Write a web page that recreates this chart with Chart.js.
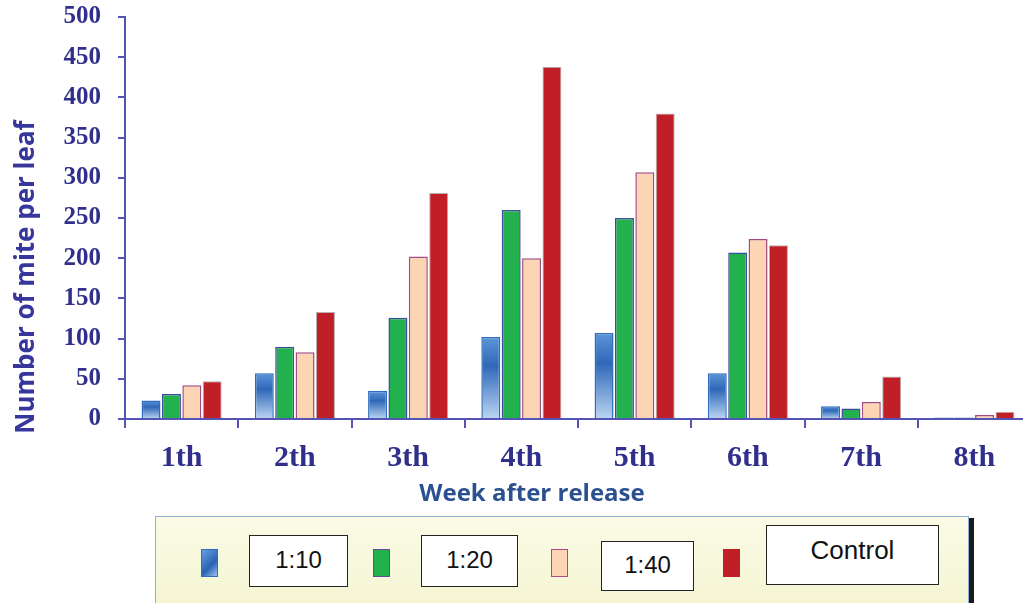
<!DOCTYPE html>
<html>
<head>
<meta charset="utf-8">
<script src="https://cdn.jsdelivr.net/npm/chart.js@4.4.1/dist/chart.umd.min.js"></script>
<style>
  body { margin:0; background:#fff; overflow:hidden; width:1023px; height:603px; position:relative; }
  #wrap { position:absolute; left:0; top:0; width:1040px; height:512px; }
  #legend { position:absolute; left:155px; top:516px; width:812px; height:95px;
            background:linear-gradient(#fbfbe6,#f4f4d2); border:1.5px solid #8db2da;
            box-shadow:5px 2px 0 #1a1a1a; }
  .sw { position:absolute; width:17px; height:28px; box-sizing:border-box; }
  .lb { position:absolute; background:#fff; border:1.5px solid #222; box-sizing:border-box;
        font:24px "Liberation Sans", Arial, sans-serif; color:#111; text-align:center; }
</style>
</head>
<body>
<div id="wrap"><canvas id="myChart"></canvas></div>
<div id="legend"></div>
<script>
// datos
var semanas = ['1th', '2th', '3th', '4th', '5th', '6th', '7th', '8th'];
var r10 = [23, 57, 35, 102, 107, 57, 16, 2];
var r20 = [31, 90, 126, 260, 250, 207, 13, 2];
var r40 = [42, 83, 202, 200, 307, 224, 21, 5];
var control = [47, 133, 281, 438, 380, 216, 53, 9];
var etiquetas = ['1:10', '1:20', '1:40', 'Control'];
var ticksY = [0, 50, 100, 150, 200, 250, 300, 350, 400, 450, 500];

var ejeColor = '#5454b4';

// degradado azul de las barras 1:10
function azul(ctx){
    var c = ctx.chart;
    if (!c.chartArea) return '#3a78c8';
    var y = c.scales.y;
    var top = y.getPixelForValue(ctx.raw), bot = y.getPixelForValue(0);
    if (bot - top < 2) return '#3a78c8';
    var g = c.ctx.createLinearGradient(0, top, 0, bot);
    g.addColorStop(0, '#5d95d8');
    g.addColorStop(0.35, '#2f68b8');
    g.addColorStop(1, '#bcd6f2');
    return g;
}

// titulos de los ejes, colocados como en el original
var titulos = {
    id: 'titulos',
    afterDraw: function(chart){
        var ctx = chart.ctx;
        ctx.save();
        ctx.textAlign = 'center';
        ctx.textBaseline = 'middle';
        ctx.font = 'bold 24px "Open Sans", sans-serif';
        ctx.fillStyle = '#2a5090';
        ctx.fillText('Week after release', 532, 494);
        ctx.translate(27, 277);
        ctx.rotate(-Math.PI / 2);
        ctx.font = 'bold 26px "Open Sans", sans-serif';
        ctx.fillStyle = '#36369c';
        ctx.fillText('Number of mite per leaf', 0, 0);
        ctx.restore();
    }
};

var ctx = document.getElementById('myChart').getContext('2d');
var chart = new Chart(ctx, {
    type: 'bar',
    data: {
        labels: semanas,
        datasets: [
            { label: etiquetas[0], data: r10, backgroundColor: azul, borderColor: '#2e6cc0', borderWidth: 1.5 },
            { label: etiquetas[1], data: r20, backgroundColor: '#22b14c', borderColor: '#3c4c9c', borderWidth: 1.5 },
            { label: etiquetas[2], data: r40, backgroundColor: '#fcd5b4', borderColor: '#a24a82', borderWidth: 1.5 },
            { label: etiquetas[3], data: control, backgroundColor: '#c01f27', borderColor: '#b8b0b0', borderWidth: 1 }
        ]
    },
    options: {
        responsive: true,
        maintainAspectRatio: false,
        animation: false,
        datasets: { bar: { categoryPercentage: 0.72, barPercentage: 0.93 } },
        layout: { padding: { left: 0, top: 17, right: 9, bottom: 0 } },
        plugins: { legend: { display: false }, tooltip: { enabled: false } },
        scales: {
            x: {
                afterFit: function(s){ s.height = 93; s.paddingLeft = 0; s.paddingRight = 0; },
                border: { color: ejeColor, width: 2 },
                grid: { offset: true, drawOnChartArea: false, color: ejeColor, lineWidth: 2, tickLength: 9 },
                ticks: { color: '#30308c', padding: 12, font: { family: '"Liberation Serif", serif', size: 30, weight: 'bold' } }
            },
            y: {
                min: 0, max: 500,
                afterFit: function(s){ s.width = 125; s.paddingTop = 0; s.paddingBottom = 0; },
                afterBuildTicks: function(s){ s.ticks = ticksY.map(function(v){ return { value: v }; }); },
                border: { color: ejeColor, width: 2 },
                grid: { drawOnChartArea: false, color: ejeColor, lineWidth: 2, tickLength: 7 },
                ticks: { color: '#30308c', padding: 17, font: { family: '"Liberation Serif", serif', size: 25, weight: 'bold' } }
            }
        }
    },
    plugins: [titulos]
});

// leyenda a mano con cajas blancas como en la figura
var leyenda = document.getElementById('legend');
var muestras = [
    { sx: 45, fondo: 'linear-gradient(135deg,#6aa0e0,#2a62b4 60%,#9cc2ec)', borde: '#2e6cc0', bx: 93, by: 18, bw: 99, bh: 52 },
    { sx: 217, fondo: '#22b14c', borde: '#6a4aa0', bx: 265, by: 18, bw: 97, bh: 52 },
    { sx: 395, fondo: '#fcd5b4', borde: '#b04a84', bx: 445, by: 24, bw: 93, bh: 50 },
    { sx: 567, fondo: '#c01f27', borde: '#c01f27', bx: 610, by: 8, bw: 173, bh: 60 }
];
muestras.forEach(function(m, i){
    var sw = document.createElement('div');
    sw.className = 'sw';
    sw.style.left = m.sx + 'px';
    sw.style.top = '32px';
    sw.style.background = m.fondo;
    sw.style.border = '1.5px solid ' + m.borde;
    leyenda.appendChild(sw);
    var lb = document.createElement('div');
    lb.className = 'lb';
    lb.style.left = m.bx + 'px';
    lb.style.top = m.by + 'px';
    lb.style.width = m.bw + 'px';
    lb.style.height = m.bh + 'px';
    lb.style.lineHeight = (i == 3 ? 48 : m.bh - 4) + 'px';
    if (i == 3) lb.style.fontSize = '26px';
    lb.textContent = etiquetas[i];
    leyenda.appendChild(lb);
});
</script>
</body>
</html>
